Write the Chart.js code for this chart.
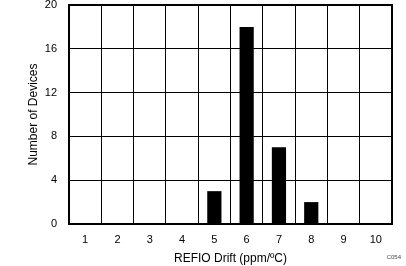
<!DOCTYPE html>
<html>
<head>
<meta charset="utf-8">
<script src="https://cdn.jsdelivr.net/npm/chart.js@4"></script>
<style>
  html, body { margin: 0; padding: 0; background: #ffffff; }
  canvas { display: block; }
</style>
</head>
<body>
<canvas id="chart" width="406" height="266"></canvas>
<script>
// Histogram data
const driftLabels = ['1', '2', '3', '4', '5', '6', '7', '8', '9', '10'];
const deviceCounts = [0, 0, 0, 0, 3, 18, 7, 2, 0, 0];
const yTicks = [0, 4, 8, 12, 16, 20];

const FONT = "'Liberation Sans', Arial, sans-serif";

// frame around plot area + figure code
const framePlugin = {
    id: 'frame',
    afterDraw(chart) {
        const { ctx, chartArea: a } = chart;
        ctx.save();
        ctx.strokeStyle = '#000';
        ctx.lineWidth = 2;
        ctx.strokeRect(a.left, a.top, a.right - a.left, a.bottom - a.top);
        ctx.fillStyle = '#444';
        ctx.font = '6px ' + FONT;
        ctx.textAlign = 'right';
        ctx.textBaseline = 'middle';
        ctx.fillText('C054', 401, 257);
        ctx.restore();
    }
};

new Chart(document.getElementById('chart'), {
    type: 'bar',
    data: {
        labels: driftLabels,
        datasets: [{
            data: deviceCounts,
            backgroundColor: '#000',
            borderWidth: 0,
            barPercentage: 0.44,
            categoryPercentage: 1
        }]
    },
    options: {
        responsive: false,
        animation: false,
        layout: { padding: { top: 5, right: 14, left: 0, bottom: 0 } },
        plugins: {
            legend: { display: false },
            tooltip: { enabled: false }
        },
        scales: {
            x: {
                grid: { color: '#000', lineWidth: 1, drawTicks: false, offset: true },
                border: { display: false },
                ticks: { color: '#000', padding: 9, font: { family: FONT, size: 11 } },
                title: {
                    display: true,
                    text: 'REFIO Drift (ppm/ºC)',
                    color: '#000',
                    font: { family: FONT, size: 12 },
                    padding: { top: 1, bottom: 0 }
                },
                afterFit(scale) {
                    scale.height = 42;
                    scale.paddingLeft = 0;
                    scale.paddingRight = 0;
                }
            },
            y: {
                min: 0,
                max: 20,
                afterBuildTicks(scale) {
                    scale.ticks = yTicks.map(v => ({ value: v }));
                },
                grid: { color: '#000', lineWidth: 1, drawTicks: false },
                border: { display: false },
                ticks: { color: '#000', padding: 12, font: { family: FONT, size: 11 } },
                title: {
                    display: true,
                    text: 'Number of Devices',
                    color: '#000',
                    font: { family: FONT, size: 12 },
                    padding: { top: 26, bottom: 0 }
                },
                afterFit(scale) {
                    scale.width = 69;
                    scale.paddingTop = 0;
                    scale.paddingBottom = 0;
                }
            }
        }
    },
    plugins: [framePlugin]
});
</script>
</body>
</html>
